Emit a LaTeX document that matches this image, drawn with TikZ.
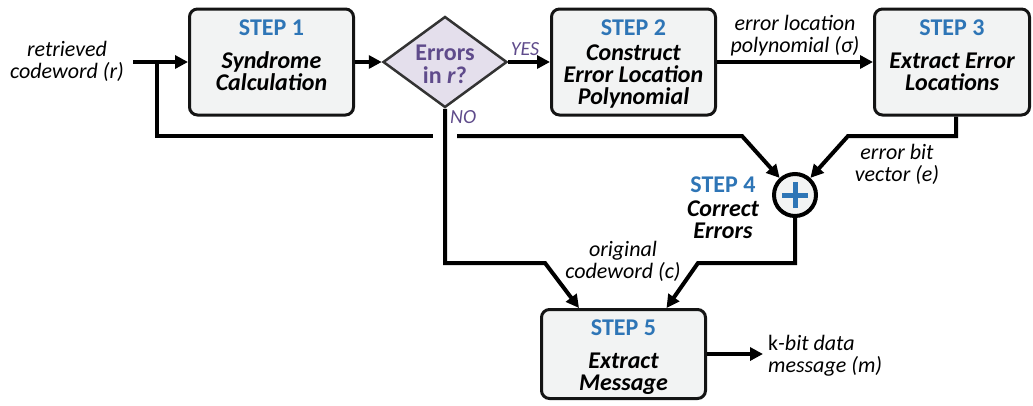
\documentclass[tikz,border=0pt]{standalone}
\usepackage{fontspec}
\setmainfont{Carlito}
\usetikzlibrary{arrows.meta,shapes.geometric,calc}
\definecolor{stepblue}{HTML}{2E75B6}
\definecolor{boxfill}{HTML}{F2F3F3}
\definecolor{decfill}{HTML}{E4DFEC}
\definecolor{decpurple}{HTML}{5F4B8B}
\newcommand\steplab[1]{{\upshape\color{stepblue}STEP #1}}
\begin{document}
\begin{tikzpicture}[x=1pt,y=-1pt,
  stepbox/.style={draw=black!92, line width=3pt, rounded corners=8pt, fill=boxfill,
    minimum width=164pt, minimum height=106pt, inner sep=0pt},
  boxtext/.style={anchor=base, align=center, inner sep=0pt,
    font=\fontsize{24}{22}\selectfont\bfseries\itshape},
  note/.style={anchor=base, align=center, inner sep=0pt,
    font=\fontsize{22}{22}\selectfont\itshape},
  tag/.style={anchor=base, inner sep=0pt, text=decpurple,
    font=\fontsize{20}{20}\selectfont\itshape},
  line/.style={line width=4pt},
  flow/.style={line width=4pt, -{Triangle[length=13pt,width=13pt]}}]
\useasboundingbox (0,0) rectangle (1033,405);

% process boxes and decision (text nodes sit on the baseline of their last line)
\node[stepbox] (b1) at (271.5,62) {};
\node[boxtext] (t1) at (271.5,90) {\steplab{1}\\[11pt]Syndrome\\Calculation};
\node[diamond, draw=black!80, line width=2.5pt, fill=decfill, inner sep=0pt,
      minimum width=124pt, minimum height=91pt] (d) at (445,62) {};
\node[anchor=base, align=center, inner sep=0pt, text=decpurple,
      font=\fontsize{24}{23}\selectfont\bfseries] (dt) at (445,83) {Errors\\in \textit{r}?};
\node[stepbox] (b2) at (633.5,62) {};
\node[boxtext] (t2) at (633.5,104) {\steplab{2}\\[3pt]Construct\\Error Location\\Polynomial};
\node[stepbox, minimum width=155pt] (b3) at (952,62) {};
\node[boxtext] (t3) at (952,90) {\steplab{3}\\[11pt]Extract Error\\Locations};
\node[circle, draw=black, line width=4pt, fill=boxfill, minimum size=42pt, inner sep=0pt] (c4) at (795,195) {};
\draw[stepblue, line width=5pt] ([xshift=-13pt]c4.center) -- ([xshift=13pt]c4.center);
\draw[stepblue, line width=5pt] ([yshift=-13pt]c4.center) -- ([yshift=13pt]c4.center);
\node[boxtext] (t4) at (723,238) {\steplab{4}\\[2pt]Correct\\Errors};
\node[stepbox, minimum height=89pt] (b5) at (623.5,354) {};
\node[boxtext] (t5) at (623.5,390) {\steplab{5}\\[11pt]Extract\\Message};

% free ends and bends
\coordinate (in) at (133,62);
\coordinate (split) at (157,62);
\coordinate (gapL) at (433,136);
\coordinate (gapR) at (457,136);
\coordinate (kneeL) at (742,136);
\coordinate (kneeR) at (848,136);
\coordinate (noKnee) at (545,263);
\coordinate (fixKnee) at (698,263);
\coordinate (out) at (763,354);

% connectors
\draw[flow] (in) -- (b1.west);
\draw[line] (split) |- (gapL);
\draw[flow] (gapR) -- (kneeL) -- (c4);
\draw[flow] (b1.east) -- (d.west);
\draw[flow] (d.east) -- (b2.west);
\draw[flow] (b2.east) -- (b3.west);
\draw[flow] ([xshift=4pt]b3.south) |- (kneeR) -- (c4);
\draw[flow] (d.south) |- (noKnee) -- ([xshift=-44.5pt]b5.north);
\draw[flow] (c4.south) |- (fixKnee) -- ([xshift=43pt]b5.north);
\draw[flow] (b5.east) -- (out);

% labels
\node[note] (lin) at (67,78) {retrieved\\codeword (r)};
\node[tag, anchor=base] (yes) at (525,55) {YES};
\node[tag, anchor=base west] (no) at (450,123) {NO};
\node[note] (lsig) at (795,52) {error location\\polynomial (σ)};
\node[note] (le) at (897,181) {error bit\\vector (e)};
\node[note] (lc) at (623,278) {original\\codeword (c)};
\node[note, align=left, anchor=base west] (lm) at (768,372) {{\upshape k}-bit data\\message (m)};
\end{tikzpicture}
\end{document}
